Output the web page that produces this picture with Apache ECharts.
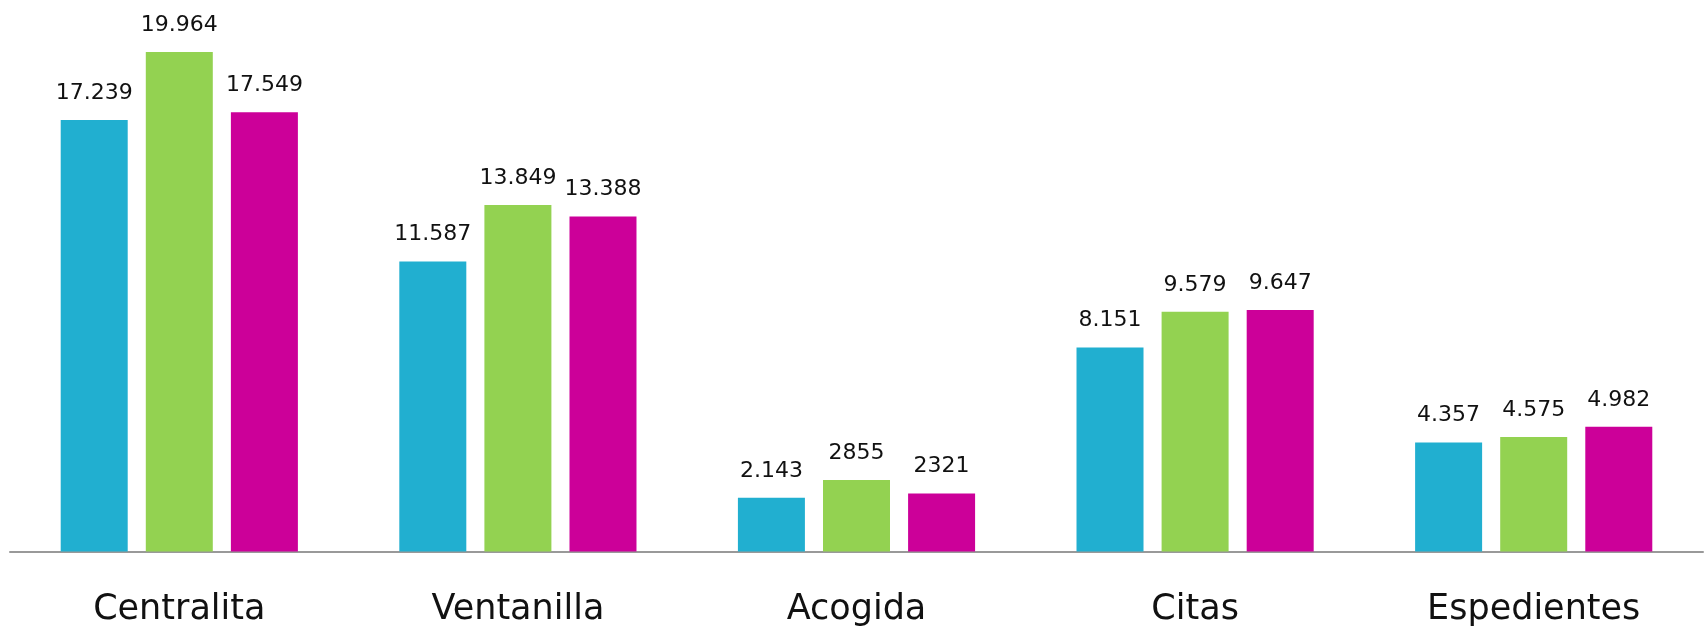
<!DOCTYPE html>
<html>
<head>
<meta charset="utf-8">
<script src="https://cdn.jsdelivr.net/npm/echarts@6/dist/echarts.min.js"></script>
<style>
html,body{margin:0;padding:0;background:#fff;}
#chart{width:1708px;height:630px;}
</style>
</head>
<body>
<div id="chart"></div>
<script>
const categories = ['Centralita', 'Ventanilla', 'Acogida', 'Citas', 'Espedientes'];
const series1Values = [17239, 11587, 2143, 8151, 4357];
const series2Values = [19964, 13849, 2855, 9579, 4575];
const series3Values = [17549, 13388, 2321, 9647, 4982];
const series1Labels = ['17.239', '11.587', '2.143', '8.151', '4.357'];
const series2Labels = ['19.964', '13.849', '2855', '9.579', '4.575'];
const series3Labels = ['17.549', '13.388', '2321', '9.647', '4.982'];
const colors = ['#21AFD0', '#93D251', '#CC0099'];

const chart = echarts.init(document.getElementById('chart'));
function mk(values, labels, color) {
  return {
    type: 'bar',
    data: values,
    barWidth: 67,
    barGap: '27%',
    itemStyle: { color: color },
    label: {
      show: true,
      position: 'top',
      distance: 16,
      color: '#111',
      fontFamily: 'DejaVu Sans',
      fontSize: 22,
      formatter: function (p) { return labels[p.dataIndex]; }
    }
  };
}
chart.setOption({
  animation: false,
  grid: { left: 10, right: 5, top: 51, bottom: 78.5, containLabel: false },
  xAxis: {
    type: 'category',
    data: categories,
    axisLine: { show: true, lineStyle: { color: '#999', width: 2 } },
    axisTick: { show: false },
    axisLabel: { color: '#111', fontFamily: 'DejaVu Sans', fontSize: 35, margin: 41 }
  },
  yAxis: {
    type: 'value', min: 0, max: 20000, interval: 5000, show: false,
    splitLine: { show: false }
  },
  series: [
    mk(series1Values, series1Labels, colors[0]),
    mk(series2Values, series2Labels, colors[1]),
    mk(series3Values, series3Labels, colors[2])
  ]
});
</script>
</body>
</html>
